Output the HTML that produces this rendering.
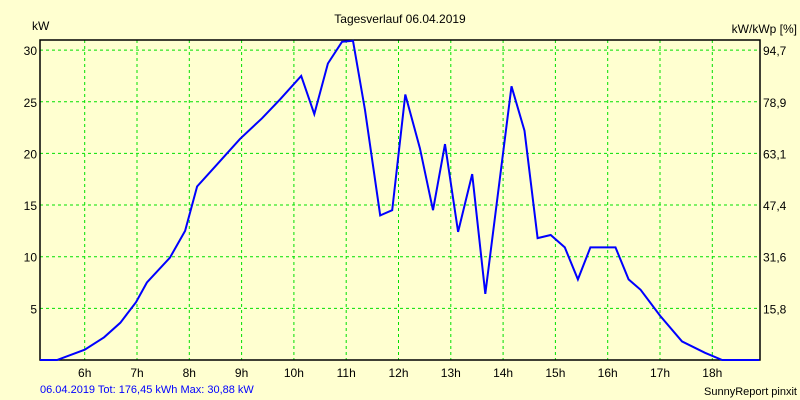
<!DOCTYPE html>
<html><head><meta charset="utf-8"><style>
body{margin:0;background:#ffffd0;}
svg{display:block;font-family:"Liberation Sans",sans-serif;}
</style></head><body>
<svg id="chart" width="800" height="400">
<rect x="0" y="0" width="800" height="400" fill="#ffffd0"/>
<text x="400" y="23" font-size="12" text-anchor="middle">Tagesverlauf 06.04.2019</text>
<text x="32" y="30" font-size="12">kW</text>
<text x="797" y="33" font-size="12" text-anchor="end">kW/kWp [%]</text>
<g id="grid"></g>
<g id="axes"></g>
<polyline id="series" fill="none" stroke="#0000ff" stroke-width="2"/>
<text x="40" y="393" font-size="11" fill="#0000ff">06.04.2019 Tot: 176,45 kWh Max: 30,88 kW</text>
<text x="797" y="395" font-size="11" text-anchor="end">SunnyReport pinxit</text>
</svg>
<script>
const hours=[5.145,5.47,6.0,6.37,6.68,6.98,7.19,7.63,7.92,8.15,8.49,8.97,9.39,9.73,10.14,10.39,10.65,10.92,11.13,11.36,11.65,11.88,12.13,12.41,12.66,12.89,13.14,13.41,13.66,14.16,14.41,14.66,14.91,15.18,15.43,15.67,16.15,16.4,16.63,17.0,17.42,17.86,18.19,18.9];
const power=[0,0,1.0,2.2,3.6,5.6,7.5,9.9,12.5,16.8,18.7,21.4,23.4,25.2,27.5,23.8,28.7,30.8,30.9,24.2,14.0,14.5,25.7,20.5,14.5,20.9,12.4,18.0,6.4,26.5,22.2,11.8,12.1,10.9,7.8,10.9,10.9,7.8,6.8,4.3,1.8,0.7,0,0];
const xTicks=[6,7,8,9,10,11,12,13,14,15,16,17,18];
const yTicks=[5,10,15,20,25,30];
const yRightLabels=["15,8","31,6","47,4","63,1","78,9","94,7"];
const L=40,R=760,T=40,B=360;
function x(h){return 84.7+(h-6)*52.3;}
function y(v){return 360-10.33*v;}
const ns="http://www.w3.org/2000/svg";
const grid=document.getElementById('grid'),axes=document.getElementById('axes');
function mk(tag,attrs,parent){const e=document.createElementNS(ns,tag);for(const k in attrs)e.setAttribute(k,attrs[k]);parent.appendChild(e);return e;}
xTicks.forEach(h=>{
 const l=mk('line',{x1:x(h),x2:x(h),y1:T,y2:B,stroke:'#00e000','stroke-dasharray':'3,3'},grid);
 
 
 const t=mk('text',{x:x(h),y:B+17,'font-size':12,'text-anchor':'middle'},axes);
 t.textContent=h+'h';
 
 
});
yTicks.forEach((v,i)=>{
 const l=mk('line',{x1:L,x2:R,y1:y(v),y2:y(v),stroke:'#00e000','stroke-dasharray':'3,3'},grid);
 
 
 const t=mk('text',{x:L-3,y:y(v)+5,'font-size':12,'text-anchor':'end'},axes);
 t.textContent=v;
 
 
 const t2=mk('text',{x:R+3,y:y(v)+5,'font-size':12},axes);
 t2.textContent=yRightLabels[i];
 
 
});
const frame=mk('path',{d:`M${L},${T}H${R}V${B}H${L}Z`,fill:'none',stroke:'#000','stroke-width':1.5},axes);


document.getElementById('series').setAttribute('points',hours.map((h,i)=>x(h).toFixed(1)+','+y(power[i]).toFixed(1)).join(' '));
</script>
</body></html>
